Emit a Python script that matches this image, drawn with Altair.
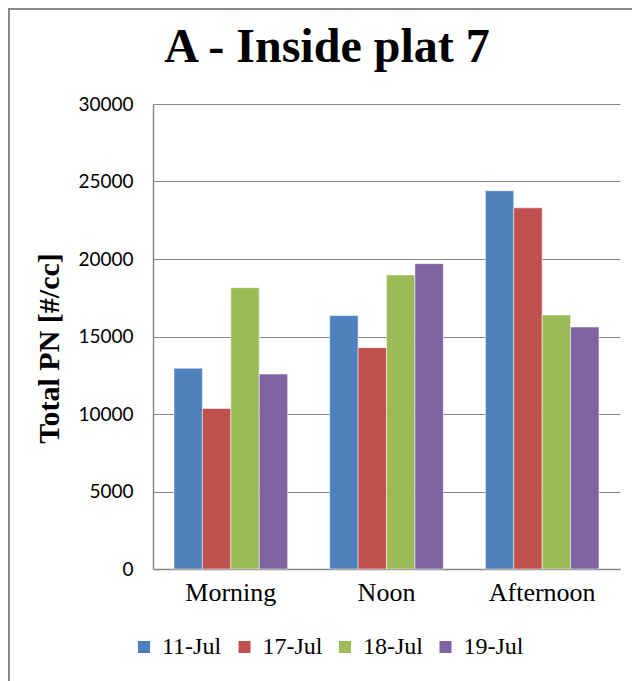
import altair as alt
import pandas as pd

periods = ["Morning", "Noon", "Afternoon"]
dates = ["11-Jul", "17-Jul", "18-Jul", "19-Jul"]
v_11jul = [12950, 16350, 24400]
v_17jul = [10350, 14280, 23300]
v_18jul = [18150, 18970, 16390]
v_19jul = [12580, 19700, 15610]
colors = ["#4F81BD", "#C0504D", "#9BBB59", "#8064A2"]
y_ticks = [0, 5000, 10000, 15000, 20000, 25000, 30000]
title_text = "A - Inside plat 7"

rows = []
for d, vals in zip(dates, [v_11jul, v_17jul, v_18jul, v_19jul]):
    for p, v in zip(periods, vals):
        rows.append({"period": p, "date": d, "pn": v})
df = pd.DataFrame(rows)

grey = "#878787"

bars = alt.Chart(df).mark_bar(stroke="white", strokeOpacity=0.5, strokeWidth=1).encode(
    x=alt.X(
        "period:N", sort=periods, title=None,
        scale=alt.Scale(paddingInner=0.27, paddingOuter=0.135),
        axis=alt.Axis(labelAngle=0, labelFont="Liberation Serif", labelFontSize=26,
                      labelColor="black", labelPadding=10, ticks=False,
                      domainColor=grey, domainWidth=1.5),
    ),
    xOffset=alt.XOffset("date:N", sort=dates,
                        scale=alt.Scale(paddingInner=0, paddingOuter=0)),
    y=alt.Y(
        "pn:Q", scale=alt.Scale(domain=[0, 30000]),
        axis=alt.Axis(values=y_ticks, format="d", title="Total PN [#/cc]",
                      labelFont="Lato", labelFontSize=19, labelColor="black",
                      labelPadding=20, ticks=False, domainColor=grey, domainWidth=1.5,
                      gridColor=grey, gridWidth=1.2,
                      titleFont="Liberation Serif", titleFontSize=30,
                      titleFontWeight="bold", titleColor="black",
                      titleX=-89, titleY=244),
    ),
    color=alt.Color(
        "date:N", sort=dates, scale=alt.Scale(domain=dates, range=colors),
        legend=alt.Legend(orient="none", legendX=-21, legendY=531,
                          direction="horizontal", columns=4, title=None,
                          symbolType="square", symbolSize=144, symbolStrokeWidth=0,
                          labelFont="Liberation Serif", labelFontSize=24,
                          labelColor="black", labelOffset=6, columnPadding=10.5,
                          padding=0),
    ),
)

frame_df = pd.DataFrame({"k": [0]})
left_edge = alt.Chart(frame_df).mark_rule(color="#8a8a8a", strokeWidth=2).encode(
    x=alt.value(-144), y=alt.value(-96), y2=alt.value(577)
)
top_edge = alt.Chart(frame_df).mark_rule(color="#8a8a8a", strokeWidth=2).encode(
    x=alt.value(-145), x2=alt.value(479), y=alt.value(-95)
)
title_mark = alt.Chart(frame_df).mark_text(
    font="Liberation Serif", fontSize=48, fontWeight="bold", color="black",
    align="center", baseline="alphabetic"
).encode(x=alt.value(174), y=alt.value(-42), text=alt.value(title_text))

chart = alt.layer(bars, left_edge, top_edge, title_mark).properties(
    width=467, height=465,
    autosize="none",
    padding={"left": 145, "top": 96, "right": 12, "bottom": 112},
).configure_view(stroke=None)

chart.save("out.html", embed_options={"renderer": "svg", "actions": False})
